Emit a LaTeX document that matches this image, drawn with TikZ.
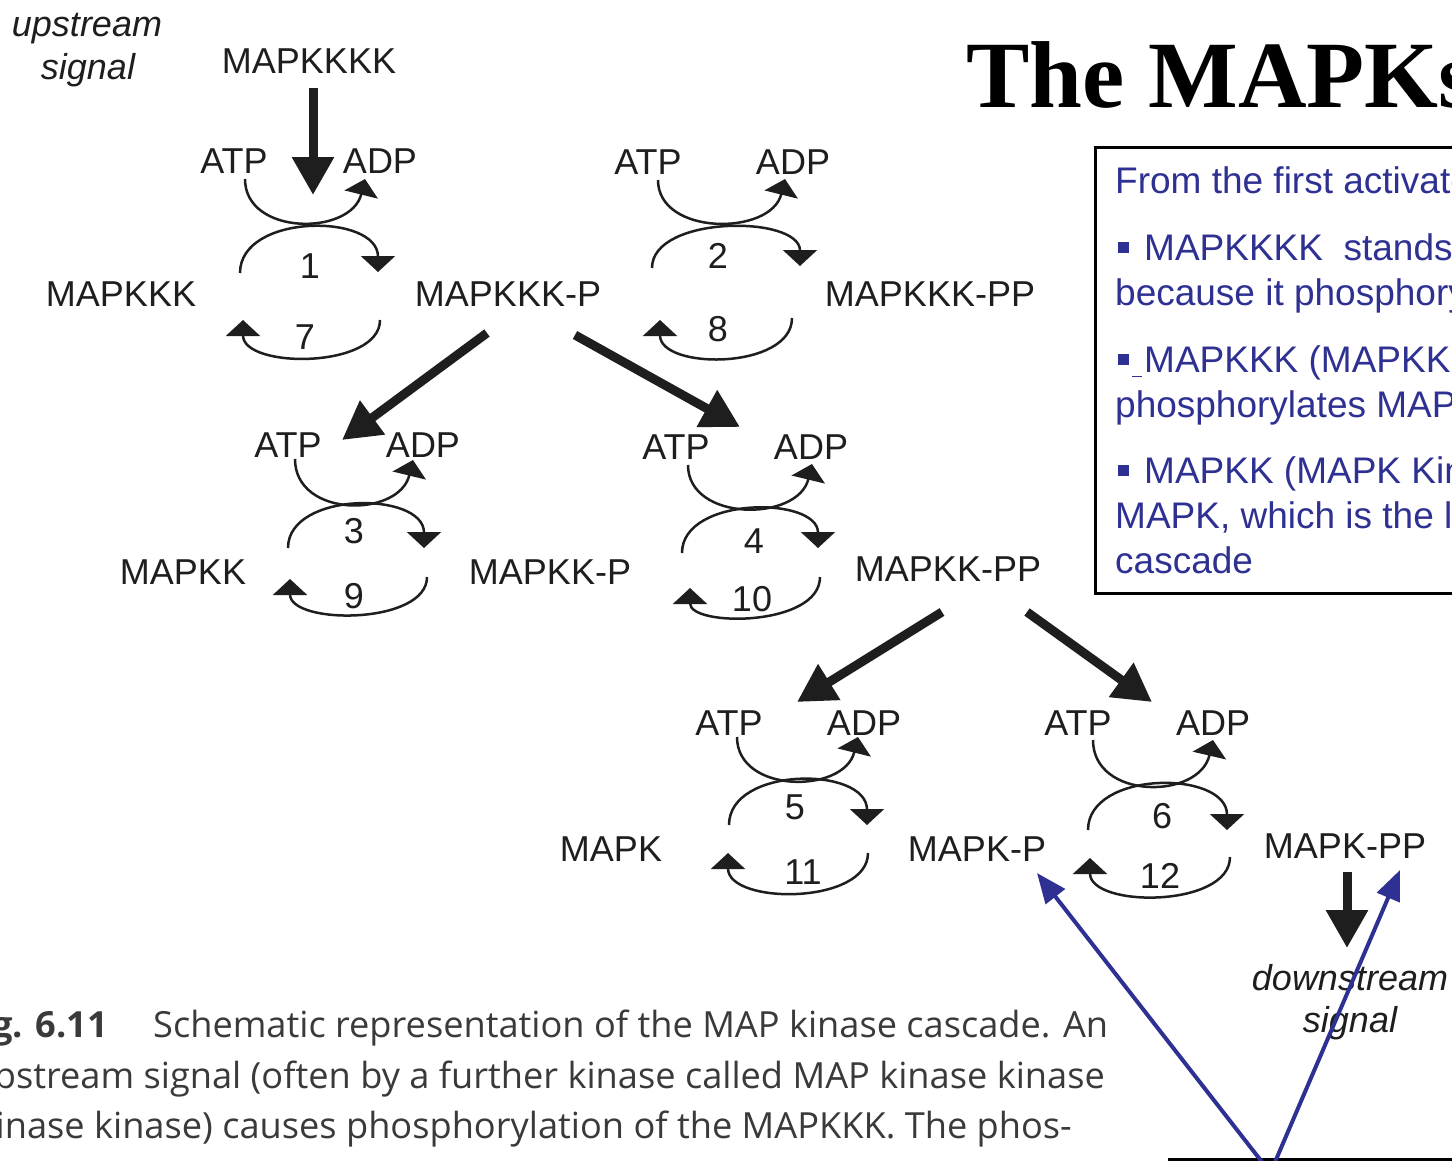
\documentclass[tikz,border=0pt]{standalone}
\usepackage{fontspec}
\setmainfont{Liberation Sans}
\newfontfamily\titlefont{Liberation Serif}
\newfontfamily\capfont{Open Sans}
\usetikzlibrary{arrows.meta}
\definecolor{ink}{HTML}{1E1E1E}
\definecolor{notebl}{RGB}{46,49,146}
\definecolor{capgray}{HTML}{3A3A3A}
\newsavebox\capwidthbox
\newlength\capw
\newcommand\sqbullet{\rule[7pt]{11pt}{11pt}\hspace{15pt}}

\begin{document}
% caption scaling: the first caption line spans a fixed width
\sbox\capwidthbox{\capfont\fontsize{36}{40}\selectfont Schematic representation of the MAP kinase cascade. An}%
\setlength\capw{\wd\capwidthbox}%
\pgfmathsetmacro\capsx{955/\capw}%
\begin{tikzpicture}[x=1pt,y=-1pt,
  lbl/.style={inner sep=0pt, anchor=base, text=ink, font=\fontsize{36}{40}\selectfont},
  sig/.style={lbl, font=\fontsize{36}{40}\selectfont\itshape},
  turn/.style={draw=ink, line width=2.5pt, -{Triangle[width=34pt,length=16pt]}},
  push/.style={draw=ink, line width=9pt, -{Triangle[width=40pt,length=38pt]}},
  note/.style={inner sep=0pt, anchor=base west, text=notebl, font=\fontsize{37}{42}\selectfont},
  pointer/.style={draw=notebl, line width=4pt, -{Triangle[width=24pt,length=30pt]}},
  capline/.style={inner sep=0pt, text=capgray, font=\capfont\fontsize{36}{40}\selectfont}
]
% page frame
\useasboundingbox (0,0) rectangle (1452,1160);
\fill[white] (0,0) rectangle (1452,1160);
\clip (0,0) rectangle (1452,1160);

% ---------- title ----------
\node[inner sep=0pt, anchor=base west, text=black,
      font=\titlefont\bfseries\fontsize{95}{100}\selectfont] (title) at (966,107) {The MAPKs};

% ---------- notes box ----------
\draw[black, line width=3pt] (1095,147) rectangle (1480,593);
\node[note] (n1) at (1115,193) {From the first activated};
\node[note] (n2) at (1118,260) {\sqbullet MAPKKKK\ \ stands};
\node[note] (n3) at (1115,305) {because it phosphorylates};
\node[note] (n4) at (1118,372) {\rule[7pt]{11pt}{11pt}\hspace{3pt}\rule[-5pt]{10pt}{1.5pt}\hspace{2pt}MAPKKK (MAPKK};
\node[note] (n5) at (1115,417) {phosphorylates MAPK};
\node[note] (n6) at (1118,483) {\sqbullet MAPKK (MAPK Kinase};
\node[note] (n7) at (1115,528) {MAPK, which is the l};
\node[note] (n8) at (1115,573) {cascade};

% ---------- signals ----------
\node[sig] (up1) at (87,36) {upstream};
\node[sig] (up2) at (88,79) {signal};
\node[sig] (dn1) at (1350,990) {downstream};
\node[sig] (dn2) at (1350,1032) {signal};

% ---------- species ----------
\node[lbl] (k4) at (309,73) {MAPKKKK};
\node[lbl] (k3) at (121,306) {MAPKKK};
\node[lbl] (k3p) at (508,306) {MAPKKK-P};
\node[lbl] (k3pp) at (930,306) {MAPKKK-PP};
\node[lbl] (k2) at (183,584) {MAPKK};
\node[lbl] (k2p) at (550,584) {MAPKK-P};
\node[lbl] (k2pp) at (948,581) {MAPKK-PP};
\node[lbl] (k1) at (611,861) {MAPK};
\node[lbl] (k1p) at (977,861) {MAPK-P};
\node[lbl] (k1pp) at (1345,858) {MAPK-PP};

% ---------- ATP / ADP ----------
\node[lbl] (atp1) at (234,173) {ATP};  \node[lbl] (adp1) at (380,173) {ADP};
\node[lbl] (atp2) at (648,174) {ATP};  \node[lbl] (adp2) at (793,174) {ADP};
\node[lbl] (atp3) at (288,457) {ATP};  \node[lbl] (adp3) at (423,457) {ADP};
\node[lbl] (atp4) at (676,459) {ATP};  \node[lbl] (adp4) at (811,459) {ADP};
\node[lbl] (atp5) at (729,735) {ATP};  \node[lbl] (adp5) at (864,735) {ADP};
\node[lbl] (atp6) at (1078,735) {ATP}; \node[lbl] (adp6) at (1213,735) {ADP};

% ---------- reaction numbers ----------
\node[lbl] (r1) at (310,278) {1};   \node[lbl] (r7) at (305,349) {7};
\node[lbl] (r2) at (718,268) {2};   \node[lbl] (r8) at (718,341) {8};
\node[lbl] (r3) at (354,543) {3};   \node[lbl] (r9) at (354,608) {9};
\node[lbl] (r4) at (754,553) {4};   \node[lbl] (r10) at (752,611) {10};
\node[lbl] (r5) at (795,819) {5};   \node[lbl] (r11) at (803,884) {11};
\node[lbl] (r6) at (1162,828) {6};  \node[lbl] (r12) at (1160,888) {12};

% ---------- phosphorylation cycles ----------
% cycle 1
\draw[turn] (245,179) .. controls (245,236) and (351,236) .. (365,179);
\draw[turn] (240,273) .. controls (240,213) and (378,213) .. (378,272);
\draw[turn] (380,320) .. controls (380,369) and (243,369) .. (243,320);
% cycle 2
\draw[turn] (658,180) .. controls (658,236) and (771,236) .. (785,179);
\draw[turn] (652,268) .. controls (652,215) and (800,215) .. (800,266);
\draw[turn] (792,318) .. controls (792,370) and (660,370) .. (660,320);
% cycle 3
\draw[turn] (295,459) .. controls (295,518) and (399,518) .. (413,460);
\draw[turn] (288,548) .. controls (288,491) and (424,491) .. (424,548);
\draw[turn] (427,577) .. controls (427,625) and (290,625) .. (290,579);
% cycle 4
\draw[turn] (688,465) .. controls (688,522) and (798,522) .. (812,464);
\draw[turn] (682,553) .. controls (682,496) and (818,496) .. (818,548);
\draw[turn] (820,577) .. controls (820,627) and (690,627) .. (690,588);
% cycle 5
\draw[turn] (737,737) .. controls (737,794) and (844,794) .. (858,737);
\draw[turn] (729,825) .. controls (729,766) and (867,766) .. (867,825);
\draw[turn] (868,853) .. controls (868,905) and (728,905) .. (728,853);
% cycle 6
\draw[turn] (1093,740) .. controls (1093,800) and (1199,800) .. (1213,740);
\draw[turn] (1088,830) .. controls (1088,770) and (1227,770) .. (1227,830);
\draw[turn] (1230,857) .. controls (1230,908) and (1090,908) .. (1090,858);

% ---------- cascade arrows ----------
\coordinate (s0) at (313,88);   \coordinate (e0) at (313,195);
\coordinate (s1) at (487,333);  \coordinate (e1) at (342,440);
\coordinate (s2) at (575,335);  \coordinate (e2) at (740,427);
\coordinate (s3) at (942,612);  \coordinate (e3) at (797,702);
\coordinate (s4) at (1027,612); \coordinate (e4) at (1152,702);
\coordinate (s5) at (1347,872); \coordinate (e5) at (1347,948);
\draw[push] (s0) -- (e0);
\draw[push] (s1) -- (e1);
\draw[push] (s2) -- (e2);
\draw[push] (s3) -- (e3);
\draw[push] (s4) -- (e4);
\draw[push] (s5) -- (e5);

% ---------- caption ----------
\node[capline, anchor=base east] (capF) at (108,1037) {\scalebox{\capsx}[1]{\bfseries Fig. 6.11}};
\node[capline, anchor=base west] (capA) at (153,1037) {\scalebox{\capsx}[1]{Schematic representation of the MAP kinase cascade. An}};
\node[capline, anchor=base east] (capB) at (1105,1088) {\scalebox{\capsx}[1]{upstream signal (often by a further kinase called MAP kinase kinase}};
\node[capline, anchor=base east] (capC) at (1072,1138) {\scalebox{\capsx}[1]{kinase kinase) causes phosphorylation of the MAPKKK. The phos-}};

% ---------- pointers ----------
\draw[black, line width=3pt] (1168,1159) -- (1460,1159);
\coordinate (pL) at (1262,1162);
\coordinate (pR) at (1275,1162);
\coordinate (tL) at (1037,873);
\coordinate (tR) at (1400,870);
\draw[pointer] (pL) -- (tL);
\draw[pointer] (pR) -- (tR);
\end{tikzpicture}
\end{document}
